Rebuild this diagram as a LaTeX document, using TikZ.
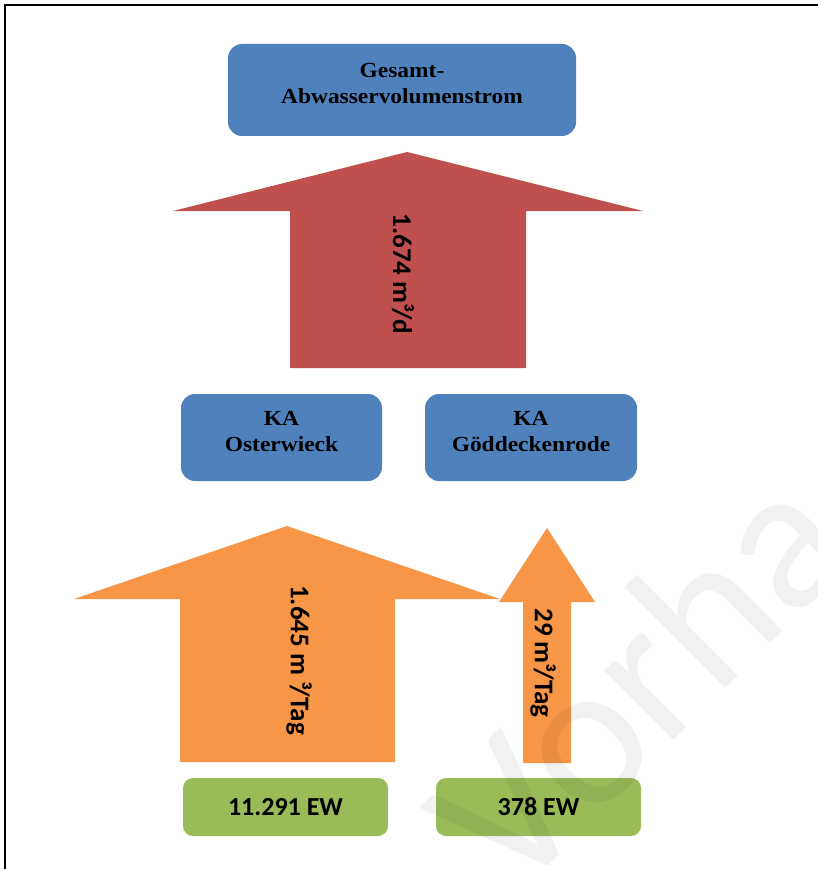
\documentclass[tikz,border=0pt]{standalone}
\usepackage{fontspec}
\setmainfont{Liberation Serif}
\setsansfont{Carlito}
\newfontfamily\boxserif[FakeStretch=1.09]{Liberation Serif}
\definecolor{kblue}{HTML}{4F81BD}
\definecolor{kred}{HTML}{C0504D}
\definecolor{korange}{HTML}{F79646}
\definecolor{kgreen}{HTML}{9BBB59}
\begin{document}
\begin{tikzpicture}[x=1pt,y=-1pt,
  bluebox/.style={fill=kblue, rounded corners=14pt, inner sep=0pt},
  bluetext/.style={inner sep=0pt, align=center, text=black,
    font=\boxserif\fontsize{21.5}{26}\selectfont\bfseries},
  greenbox/.style={fill=kgreen, rounded corners=10pt, inner sep=0pt, text=black,
    font=\sffamily\bfseries\fontsize{26}{30}\selectfont},
  arrowlabel/.style={rotate=-90, inner sep=0pt, text=black, font=\sffamily\bfseries\fontsize{27}{30}\selectfont}]
\useasboundingbox (0,0) rectangle (818,869);
\fill[white] (0,0) rectangle (818,869);
% frame
\draw[line width=2pt] (5,869) -- (5,5.5) -- (818,5.5);
% boxes
\node[bluebox, minimum width=348pt, minimum height=92pt] (total) at (402,90) {};
\node[bluetext] (totalT) at ([yshift=6pt]total.center) {Gesamt-\\Abwasservolumenstrom};
\node[bluebox, minimum width=201pt, minimum height=87pt] (oster) at (281.5,437.5) {};
\node[bluetext] (osterT) at ([yshift=5.5pt]oster.center) {KA\\Osterwieck};
\node[bluebox, minimum width=212pt, minimum height=87pt] (goedd) at (531,437.5) {};
\node[bluetext] (goeddT) at ([yshift=5.5pt]goedd.center) {KA\\Göddeckenrode};
\node[greenbox, minimum width=205pt, minimum height=58pt] (ewA) at (285.5,807) {11.291 EW};
\node[greenbox, minimum width=205pt, minimum height=58pt] (ewB) at (538.5,807) {378 EW};
% block arrows
\fill[kred] (407,152) -- (643,211) -- (526,211) -- (526,368) -- (290,368) -- (290,211) -- (173,211) -- cycle;
\fill[korange] (287,526) -- (500,599) -- (395,599) -- (395,762) -- (180,762) -- (180,599) -- (74,599) -- cycle;
\fill[korange] (547,528) -- (595,602) -- (571,602) -- (571,763) -- (523,763) -- (523,602) -- (499,602) -- cycle;
\node[arrowlabel] (lblR) at (403,274) {1.674 m³/d};
\node[arrowlabel] (lblA) at (299,660) {1.645 m ³/Tag};
\node[arrowlabel] (lblB) at (543,663) {29 m³/Tag};
% watermark
\begin{scope}
\clip (0,0) rectangle (818,869);
\node[rotate=45, anchor=base west, inner sep=0pt, text=black, text opacity=0.055,
  font=\sffamily\fontsize{205}{205}\selectfont] (wm) at (512,902) {Vorha};
\end{scope}
\end{tikzpicture}
\end{document}
